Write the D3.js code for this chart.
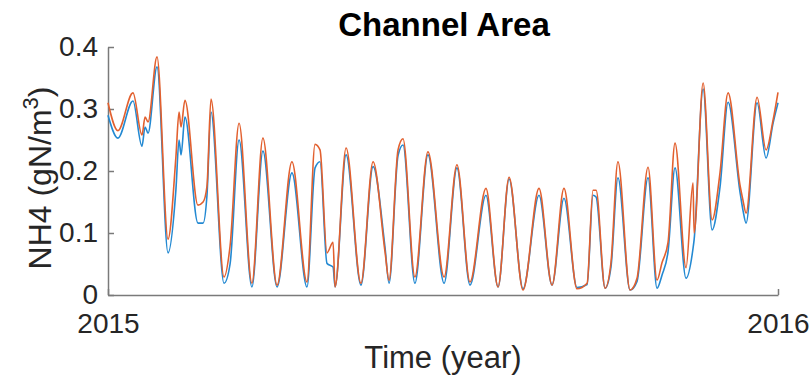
<!DOCTYPE html>
<html>
<head>
<meta charset="utf-8">
<script src="https://cdn.jsdelivr.net/npm/d3@7"></script>
<style>
  body { margin: 0; background: #fff; }
  svg { display: block; font-family: "Liberation Sans", Arial, Helvetica, sans-serif; }
  .axis path, .axis line { stroke: #7a7a7a; stroke-width: 1.5; }
  .axis text { fill: #262626; font-size: 28px; }
</style>
</head>
<body>
<svg id="chart" width="809" height="382"></svg>
<script>
// day of year 2015
const days = [0, 5.4, 13.6, 18.5, 20.2, 21.8, 26.7, 32.7, 37.0, 38.7, 39.8, 41.9, 49.0, 51.8, 53.9, 56.1,
  63.2, 66.5, 71.4, 78.4, 84.4, 92.1, 100.2, 108.4, 112.8, 115.5, 119.3, 122.6, 123.7, 129.7, 137.8,
  144.4, 150.9, 153.1, 158.0, 160.7, 167.2, 174.3, 183.1, 190.1, 197.2, 205.9, 212.5, 218.5, 226.1,
  234.8, 241.9, 248.4, 255.5, 261.0, 264.2, 265.9, 270.8, 274.0, 277.8, 284.4, 288.2, 294.2, 299.1,
  301.8, 305.1, 308.9, 314.9, 318.7, 319.3, 324.2, 329.1, 333.4, 337.8, 344.3, 345.9, 347.6, 353.6,
  358.5, 362.3, 365];

// blue series
const seriesA = [0.290, 0.253, 0.313, 0.240, 0.271, 0.261, 0.368, 0.068, 0.170, 0.250, 0.226, 0.287, 0.116, 0.116, 0.160, 0.295,
  0.019, 0.050, 0.250, 0.013, 0.232, 0.013, 0.197, 0.013, 0.205, 0.215, 0.051, 0.045, 0.013, 0.226, 0.016,
  0.207, 0.077, 0.019, 0.225, 0.242, 0.019, 0.226, 0.019, 0.205, 0.016, 0.161, 0.013, 0.187, 0.010,
  0.161, 0.016, 0.156, 0.012, 0.017, 0.161, 0.158, 0.011, 0.045, 0.189, 0.008, 0.022, 0.189, 0.011,
  0.032, 0.070, 0.205, 0.027, 0.075, 0.089, 0.332, 0.105, 0.174, 0.311, 0.166, 0.137, 0.116, 0.310,
  0.221, 0.277, 0.310];

// orange series
const seriesB = [0.310, 0.265, 0.326, 0.258, 0.287, 0.279, 0.384, 0.090, 0.223, 0.295, 0.271, 0.314, 0.145, 0.150, 0.175, 0.316,
  0.029, 0.079, 0.277, 0.019, 0.253, 0.016, 0.215, 0.021, 0.243, 0.234, 0.068, 0.085, 0.013, 0.237, 0.019,
  0.215, 0.070, 0.024, 0.234, 0.252, 0.029, 0.231, 0.029, 0.210, 0.021, 0.172, 0.013, 0.190, 0.008,
  0.172, 0.016, 0.172, 0.010, 0.019, 0.169, 0.169, 0.011, 0.052, 0.215, 0.008, 0.027, 0.206, 0.024,
  0.052, 0.085, 0.245, 0.044, 0.181, 0.100, 0.342, 0.121, 0.197, 0.326, 0.177, 0.153, 0.132, 0.319,
  0.234, 0.282, 0.327];

const yTicks = [0, 0.1, 0.2, 0.3, 0.4];
const xTickLabels = ["2015", "2016"];

const svg = d3.select("#chart");
const margin = { top: 47, right: 31, bottom: 87, left: 108 };
const width = 809 - margin.left - margin.right;
const height = 382 - margin.top - margin.bottom;

const start = new Date(2015, 0, 1);
const end = new Date(2016, 0, 1);
const toDate = d => new Date(start.getTime() + d * 864e5);

const x = d3.scaleTime().domain([start, end]).range([0, width]);
const y = d3.scaleLinear().domain([0, 0.4]).range([height, 0]);

const g = svg.append("g").attr("transform", `translate(${margin.left},${margin.top})`);

// x axis, only the two year ticks
g.append("g")
  .attr("class", "axis")
  .attr("transform", `translate(0,${height})`)
  .call(d3.axisBottom(x)
    .tickValues([start, end])
    .tickFormat((d, i) => xTickLabels[i])
    .tickSizeInner(-6).tickSizeOuter(0).tickPadding(12))
  .call(a => a.selectAll("text").attr("dy", "0.92em"));

g.append("g")
  .attr("class", "axis")
  .call(d3.axisLeft(y)
    .tickValues(yTicks)
    .tickFormat(d => d === 0 ? "0" : d3.format(".1f")(d))
    .tickSizeInner(-6).tickSizeOuter(0).tickPadding(10));

const line = d3.line()
  .x((d, i) => x(toDate(days[i])))
  .y(d => y(d))
  .curve(d3.curveMonotoneX);

g.append("path")
  .datum(seriesA)
  .attr("fill", "none")
  .attr("stroke", "#2389d2")
  .attr("stroke-width", 1.6)
  .attr("d", line);

g.append("path")
  .datum(seriesB)
  .attr("fill", "none")
  .attr("stroke", "#e2602f")
  .attr("stroke-width", 1.6)
  .attr("d", line);

// title and labels
svg.append("text")
  .attr("x", 444).attr("y", 36)
  .attr("text-anchor", "middle")
  .attr("font-size", 33).attr("font-weight", "bold")
  .attr("fill", "#000")
  .text("Channel Area");

svg.append("text")
  .attr("x", 443).attr("y", 368)
  .attr("text-anchor", "middle")
  .attr("font-size", 31)
  .attr("fill", "#262626")
  .text("Time (year)");

const ylab = svg.append("text")
  .attr("transform", "translate(51,178) rotate(-90)")
  .attr("text-anchor", "middle")
  .attr("font-size", 32)
  .attr("fill", "#262626");
ylab.append("tspan").text("NH4 (gN/m");
ylab.append("tspan").attr("dy", -13).attr("font-size", 22).text("3");
ylab.append("tspan").attr("dy", 13).text(")");
</script>
</body>
</html>
